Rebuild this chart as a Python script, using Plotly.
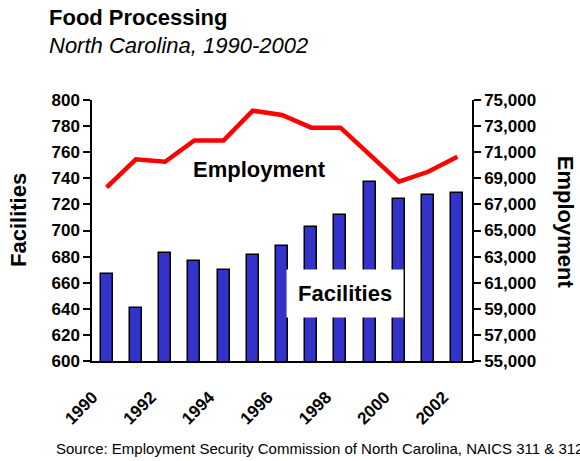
import plotly.graph_objects as go

# Food processing in North Carolina, 1990-2002
years = [1990, 1991, 1992, 1993, 1994, 1995, 1996, 1997, 1998, 1999, 2000, 2001, 2002]
facilities = [667, 641, 683, 677, 670, 681, 688, 703, 712, 737, 724, 727, 729]
employment = [68300, 70450, 70270, 71900, 71900, 74180, 73850, 72880, 72880,
              70790, 68740, 69500, 70660]

year_labels = [1990, 1992, 1994, 1996, 1998, 2000, 2002]
fac_ticks = list(range(600, 801, 20))
emp_ticks = list(range(55000, 75001, 2000))

FONT = "Arial, Liberation Sans, sans-serif"
X_RANGE = [years[0] - 0.5, years[-1] + 0.5]
boundaries = [y - 0.5 for y in years] + [years[-1] + 0.5]

fig = go.Figure()

fig.add_trace(go.Bar(
    x=years, y=facilities, width=0.41,
    marker=dict(color="#3333CC", line=dict(color="black", width=1.5)),
    xaxis="x", yaxis="y", showlegend=False,
))
fig.add_trace(go.Scatter(
    x=years, y=employment, mode="lines",
    line=dict(color="#FF0000", width=4.5),
    xaxis="x", yaxis="y2", showlegend=False,
))

axis_line = dict(showline=True, linecolor="black", linewidth=1.5,
                 showgrid=False, zeroline=False)
tick_font = dict(family=FONT, size=17, color="black", weight="bold")

fig.update_layout(
    width=580, height=461,
    margin=dict(l=92, r=108, t=100, b=100),
    paper_bgcolor="white", plot_bgcolor="white",
    bargap=0,
    xaxis=dict(
        range=X_RANGE, tickmode="array", tickvals=year_labels,
        ticktext=[str(v) for v in year_labels], ticks="", tickangle=-45,
        tickfont=tick_font, ticklabelstandoff=18, ticklabelshift=-14,
        **axis_line,
    ),
    # crossing tick marks on the category boundaries
    xaxis2=dict(range=X_RANGE, overlaying="x", anchor="y", side="bottom",
                tickmode="array", tickvals=boundaries, ticks="outside",
                ticklen=7, tickwidth=1.5, tickcolor="black",
                showticklabels=False, showline=False, showgrid=False,
                zeroline=False),
    xaxis3=dict(range=X_RANGE, overlaying="x", anchor="y", side="bottom",
                tickmode="array", tickvals=boundaries, ticks="inside",
                ticklen=7, tickwidth=1.5, tickcolor="black",
                showticklabels=False, showline=False, showgrid=False,
                zeroline=False),
    yaxis=dict(
        range=[600, 800], tickmode="array", tickvals=fac_ticks,
        ticks="outside", ticklen=7, tickwidth=1.5, tickcolor="black",
        tickfont=tick_font, **axis_line,
    ),
    yaxis3=dict(range=[600, 800], overlaying="y", anchor="x", side="left",
                tickmode="array", tickvals=fac_ticks, ticks="inside",
                ticklen=7, tickwidth=1.5, tickcolor="black",
                showticklabels=False, showline=False, showgrid=False,
                zeroline=False),
    yaxis2=dict(
        range=[55000, 75000], overlaying="y", side="right", anchor="x",
        tickmode="array", tickvals=emp_ticks, tickformat=",",
        ticks="outside", ticklen=7, tickwidth=1.5, tickcolor="black",
        tickfont=tick_font, **axis_line,
    ),
    yaxis4=dict(range=[55000, 75000], overlaying="y", side="right", anchor="x",
                tickmode="array", tickvals=emp_ticks, ticks="inside",
                ticklen=7, tickwidth=1.5, tickcolor="black",
                showticklabels=False, showline=False, showgrid=False,
                zeroline=False),
)

annotations = [
    dict(text="Food Processing", x=-0.118, y=1.318, xanchor="left", yanchor="middle",
         font=dict(family=FONT, size=22, color="black", weight="bold")),
    dict(text="<i>North Carolina, 1990-2002</i>", x=-0.118, y=1.209,
         xanchor="left", yanchor="middle",
         font=dict(family=FONT, size=22, color="black")),
    dict(text="Facilities", x=-0.195, y=0.540, textangle=-90,
         xanchor="center", yanchor="middle",
         font=dict(family=FONT, size=22, color="black", weight="bold")),
    dict(text="Employment", x=1.245, y=0.533, textangle=90,
         xanchor="center", yanchor="middle",
         font=dict(family=FONT, size=22, color="black", weight="bold")),
    dict(text="Employment", x=0.4395, y=0.732, xanchor="center", yanchor="middle",
         font=dict(family=FONT, size=22, color="black", weight="bold")),
    dict(text="Facilities", x=0.667, y=0.2586, xanchor="center", yanchor="middle",
         bgcolor="white", borderpad=11,
         font=dict(family=FONT, size=22, color="black", weight="bold")),
    dict(text="Source: Employment Security Commission of North Carolina, NAICS 311 & 312",
         x=-0.1, y=-0.336, xanchor="left", yanchor="middle",
         font=dict(family=FONT, size=15, color="black")),
]
for a in annotations:
    a.update(xref="paper", yref="paper", showarrow=False)
fig.update_layout(annotations=annotations)

fig.write_html("out.html")
